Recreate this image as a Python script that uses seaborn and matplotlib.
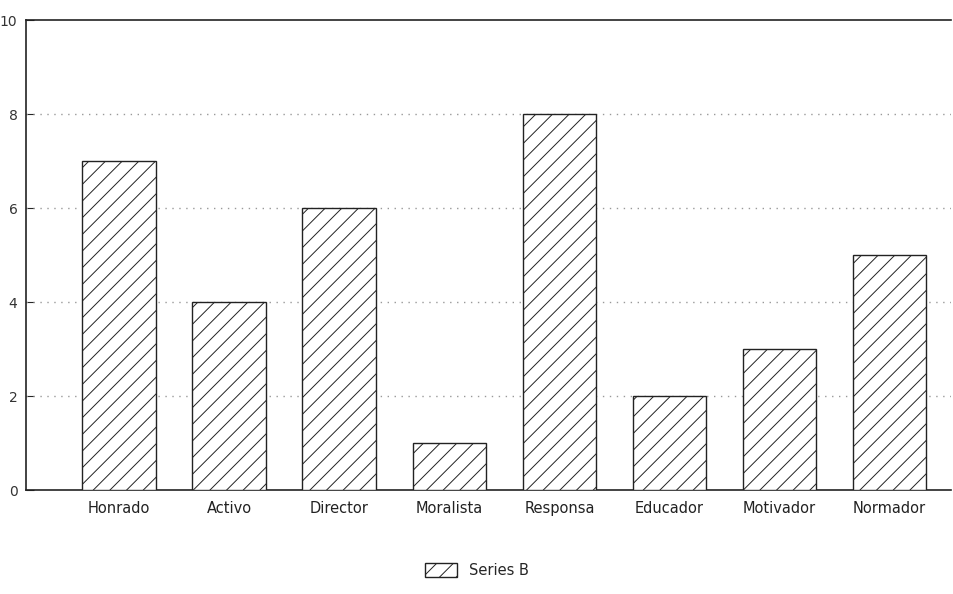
import matplotlib
matplotlib.use('Agg')
import matplotlib.pyplot as plt
import seaborn as sns
import pandas as pd
from matplotlib.patches import Patch

categories = ['Honrado', 'Activo', 'Director', 'Moralista', 'Responsa',
              'Educador', 'Motivador', 'Normador']
values = [7, 4, 6, 1, 8, 2, 3, 5]
series_name = 'Series B'
y_ticks = [0, 2, 4, 6, 8, 10]

sns.set_style('white')
plt.rcParams['font.family'] = ['DejaVu Sans']
plt.rcParams['hatch.linewidth'] = 0.7
plt.rcParams['hatch.color'] = '#333333'

data = pd.DataFrame({'cat': categories, 'val': values})

fig = plt.figure(figsize=(9.54, 5.94), dpi=100)
ax = fig.add_axes([0.027, 0.175, 0.97, 0.791])

sns.barplot(x='cat', y='val', data=data, color='white', edgecolor='#222222',
            linewidth=1.0, width=0.67, ax=ax, errorbar=None, zorder=3)
for p in ax.patches:
    p.set_hatch('//')

ax.set_ylim(0, 10)
ax.set_xlim(-0.85, 7.56)
ax.set_yticks(y_ticks)
ax.set_yticklabels([str(t) for t in y_ticks], fontsize=10, color='#333333')
ax.tick_params(axis='y', direction='in', length=6, pad=6, left=True)
ax.tick_params(axis='x', length=0, labelsize=10.5, labelcolor='#222222', pad=8)
ax.set_xlabel('')
ax.set_ylabel('')

for t in [2, 4, 6, 8]:
    ax.axhline(t, color='#999999', linestyle=(0, (1, 4)), linewidth=1.0, zorder=1)

for side in ['top', 'left', 'bottom']:
    ax.spines[side].set_color('#222222')
    ax.spines[side].set_linewidth(1.2)
ax.spines['right'].set_visible(False)

handle = Patch(facecolor='white', edgecolor='#222222', hatch='//', label=series_name)
fig.legend(handles=[handle], loc='center', bbox_to_anchor=(0.5, 0.04),
           frameon=False, fontsize=10.5, handlelength=2.2, handleheight=1.2)

fig.savefig('out.png', dpi=100)
